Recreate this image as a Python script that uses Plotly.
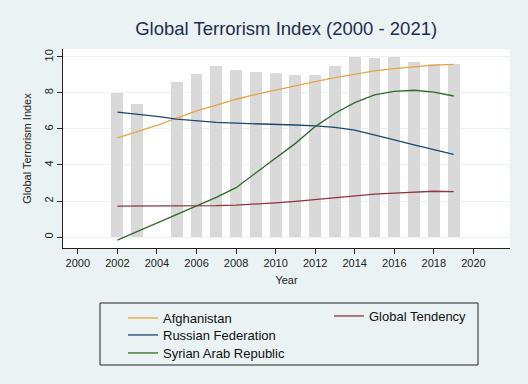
import plotly.graph_objects as go

bar_years = [2002, 2003, 2005, 2006, 2007, 2008, 2009, 2010, 2011, 2012, 2013,
             2014, 2015, 2016, 2017, 2018, 2019]
bar_values = [8.02, 7.39, 8.59, 9.07, 9.5, 9.28, 9.18, 9.09, 8.98, 8.98, 9.52,
              10.0, 9.93, 10.0, 9.72, 9.6, 9.59]

years = list(range(2002, 2020))
afghanistan = [5.5, 5.85, 6.2, 6.6, 7.0, 7.33, 7.65, 7.92, 8.17, 8.4, 8.63,
               8.85, 9.04, 9.22, 9.35, 9.45, 9.54, 9.59]
russia = [6.93, 6.83, 6.7, 6.55, 6.45, 6.37, 6.32, 6.3, 6.26, 6.22, 6.17,
          6.09, 5.94, 5.68, 5.39, 5.11, 4.87, 4.59]
syria = [-0.17, 0.3, 0.8, 1.27, 1.74, 2.2, 2.74, 3.55, 4.37, 5.2, 6.13,
         6.87, 7.46, 7.89, 8.09, 8.15, 8.04, 7.83]
global_tendency = [1.72, 1.72, 1.72, 1.73, 1.73, 1.74, 1.77, 1.82, 1.9, 1.98,
                   2.09, 2.18, 2.3, 2.38, 2.44, 2.5, 2.54, 2.52]

x_ticks = list(range(2000, 2021, 2))
y_ticks = list(range(0, 11, 2))

BG = "#EAF2F3"
FONT = "Liberation Sans, Arial, sans-serif"
W, H = 528, 384
L, R, T, B = 63, 18, 49, 136
PW, PH = W - L - R, H - T - B

fig = go.Figure()
fig.add_trace(go.Bar(x=bar_years, y=bar_values, width=0.6,
                     marker=dict(color="#D9D9D9", line=dict(width=0)),
                     showlegend=False, hoverinfo="skip"))
fig.add_trace(go.Scatter(x=years, y=afghanistan, mode="lines", name="Afghanistan",
                         line=dict(color="#E6A443", width=1.3), legend="legend"))
fig.add_trace(go.Scatter(x=years, y=russia, mode="lines", name="Russian Federation",
                         line=dict(color="#1A476F", width=1.3), legend="legend3"))
fig.add_trace(go.Scatter(x=years, y=syria, mode="lines", name="Syrian Arab Republic",
                         line=dict(color="#2F6A2A", width=1.3), legend="legend4"))
fig.add_trace(go.Scatter(x=years, y=global_tendency, mode="lines", name="Global Tendency",
                         line=dict(color="#90353B", width=1.3), legend="legend2"))

def leg(px, py):
    # px, py: top-left of the legend box in page pixels, converted to paper coords
    return dict(x=(px - L) / PW, xanchor="left",
                y=(H - B - py) / PH, yanchor="top",
                bgcolor="rgba(0,0,0,0)",
                font=dict(family=FONT, size=13, color="#111"))

fig.update_layout(
    width=W, height=H,
    margin=dict(l=L, r=R, t=T, b=B),
    paper_bgcolor=BG, plot_bgcolor="white",
    font=dict(family=FONT, size=11, color="#222"),
    title=dict(text="Global Terrorism Index (2000 - 2021)", x=0.542, xanchor="center",
               y=1 - 29 / H, yanchor="middle",
               font=dict(family=FONT, size=18.5, color="#1F2D4F")),
    bargap=0,
    legend=leg(123, 303),
    legend3=leg(123, 320),
    legend4=leg(123, 338),
    legend2=leg(329, 301),
    xaxis=dict(range=[1999.25, 2021.85], tickvals=x_ticks, ticks="outside", ticklen=5,
               tickcolor="#222", showline=True, linecolor="#222", linewidth=1,
               showgrid=False, zeroline=False,
               title=dict(text="Year", font=dict(family=FONT, size=11), standoff=8),
               tickfont=dict(family=FONT, size=11, color="#222")),
    yaxis=dict(range=[-0.61, 10.44], tickvals=y_ticks, ticks="outside", ticklen=5,
               tickcolor="#222", showline=True, linecolor="#222", linewidth=1,
               showgrid=True, gridcolor=BG, gridwidth=1, zeroline=False, tickangle=-90,
               title=dict(text="Global Terrorism Index", font=dict(family=FONT, size=11),
                          standoff=8),
               tickfont=dict(family=FONT, size=11, color="#222")),
    shapes=[dict(type="rect", xref="paper", yref="paper",
                 x0=(100 - L) / PW, x1=(478 - L) / PW,
                 y0=(H - B - 365) / PH, y1=(H - B - 303) / PH,
                 line=dict(color="#222", width=1),
                 fillcolor="rgba(0,0,0,0)", layer="below")],
)

fig.write_html("out.html",
               config={"displayModeBar": False},
               post_script="document.body.style.margin='0';"
                           "document.body.style.background='" + BG + "';")
